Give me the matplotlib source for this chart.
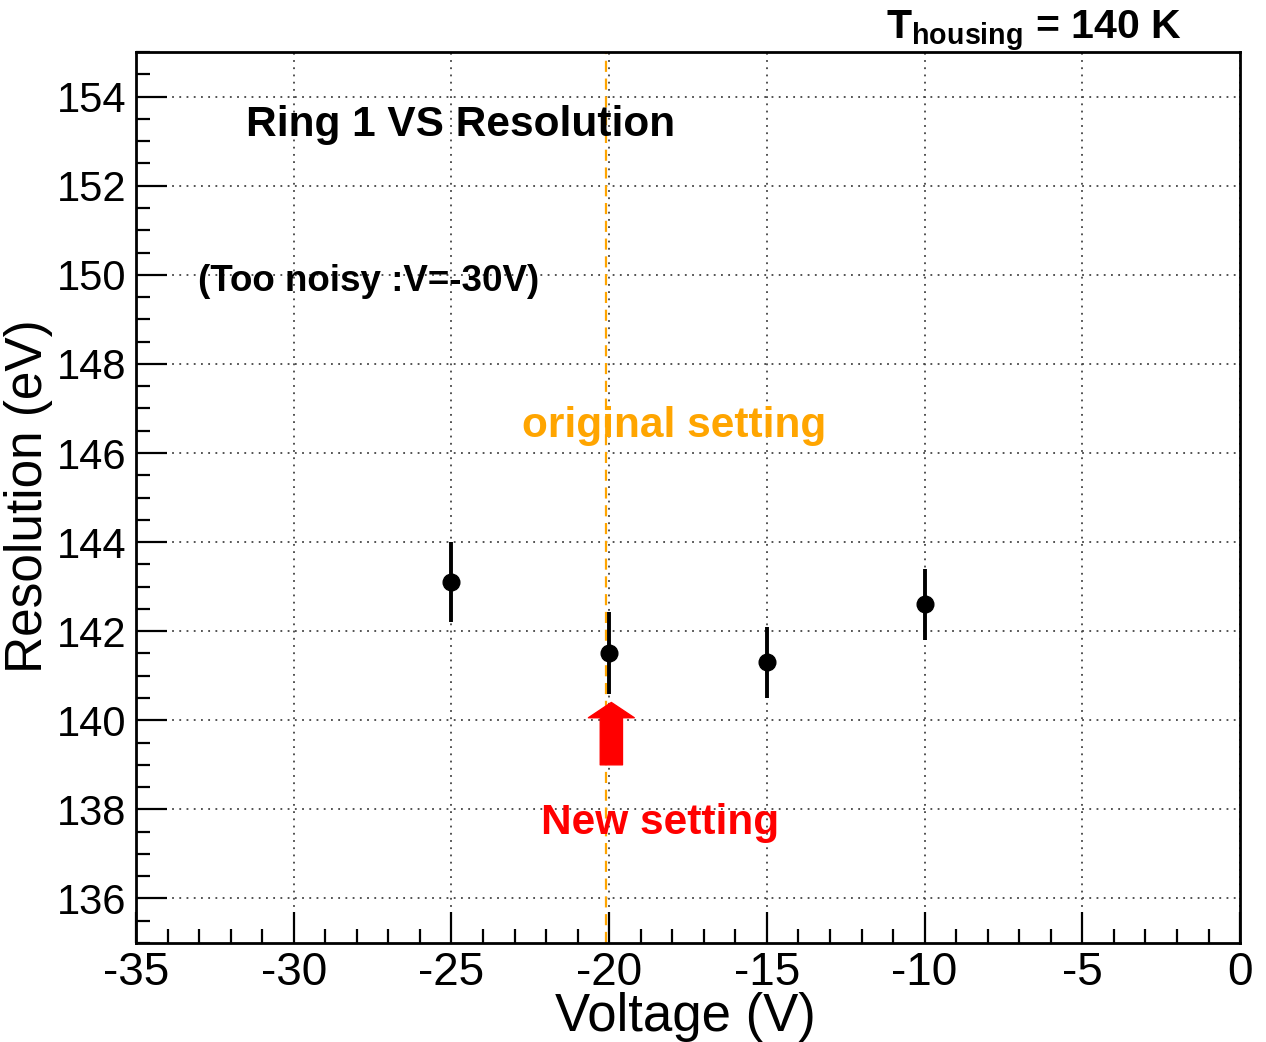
"""Ring 1 resolution versus bias voltage (ROOT-style plot)."""

import matplotlib

matplotlib.use("Agg")
import matplotlib.pyplot as plt
import matplotlib.ticker as mticker

plt.rcParams["font.family"] = ["Liberation Sans", "DejaVu Sans"]
plt.rcParams["mathtext.fontset"] = "custom"
plt.rcParams["mathtext.rm"] = "Liberation Sans"
plt.rcParams["mathtext.bf"] = "Liberation Sans:bold"

# ── Data ─────────────────────────────────────────────────────────────────────
voltage = [-25, -20, -15, -10]
resolution = [143.1, 141.5, 141.3, 142.6]
resolution_err = [0.9, 0.92, 0.8, 0.8]

original_setting_v = -20.1
new_setting_v = -19.93
arrow_tail_y = 139.0
arrow_head_y = 140.4


def main() -> None:
    fig = plt.figure(figsize=(12.66, 10.42), dpi=100)
    ax = fig.add_axes([0.1074, 0.095, 0.8721, 0.855])

    ax.set_xlim(-35, 0)
    ax.set_ylim(135, 155)

    # Grid on major ticks, dotted like ROOT
    ax.grid(True, which="major", linestyle=(0, (1, 3)), color="#444444", linewidth=1.3)
    ax.set_axisbelow(True)

    ax.xaxis.set_major_locator(mticker.MultipleLocator(5))
    ax.xaxis.set_minor_locator(mticker.MultipleLocator(1))
    ax.yaxis.set_major_locator(mticker.MultipleLocator(2))
    ax.yaxis.set_minor_locator(mticker.MultipleLocator(0.5))
    ax.xaxis.set_major_formatter(mticker.FuncFormatter(lambda v, _: f"{v:g}"))
    ax.yaxis.set_major_formatter(mticker.FuncFormatter(lambda v, _: f"{v:g}"))

    ax.tick_params(which="major", direction="in", length=22, width=1.6,
                   top=False, right=False, pad=6)
    ax.tick_params(which="minor", direction="in", length=10, width=1.6,
                   top=False, right=False)
    ax.tick_params(axis="x", which="major", labelsize=33)
    ax.tick_params(axis="y", which="major", labelsize=30, pad=7)
    for side in ["left", "bottom", "top", "right"]:
        ax.spines[side].set_linewidth(2.0)

    # Original setting marker line
    ax.axvline(original_setting_v, color="#FFA500", linestyle=(0, (5, 3)),
               linewidth=1.6, zorder=2)

    ax.errorbar(voltage, resolution, yerr=resolution_err, fmt="o", color="black",
                markersize=12, elinewidth=2.8, capsize=0, zorder=5)

    # New setting arrow
    ax.annotate(
        "",
        xy=(new_setting_v, arrow_head_y),
        xytext=(new_setting_v, arrow_tail_y),
        arrowprops=dict(facecolor="red", edgecolor="red", width=16,
                        headwidth=33, headlength=11, shrink=0),
        zorder=6,
    )

    ax.set_xlabel("Voltage (V)", fontsize=38)
    ax.set_ylabel("Resolution (eV)", fontsize=37)
    ax.xaxis.set_label_coords(0.498, -0.055)
    ax.yaxis.set_label_coords(-0.075, 0.502)

    ax.text(-24.7, 153.37, "Ring 1 VS Resolution", fontsize=30.5, fontweight="bold",
            ha="center", va="center")
    ax.text(-27.64, 149.85, "(Too noisy :V=-30V)", fontsize=26.5, fontweight="bold",
            ha="center", va="center")
    ax.text(-17.93, 146.6, "original setting", fontsize=30.5, fontweight="bold",
            color="#FFA500", ha="center", va="center")
    ax.text(-18.4, 137.7, "New setting", fontsize=30.5, fontweight="bold",
            color="red", ha="center", va="center")

    fig.text(0.8165, 0.971, r"T$_{\mathbf{housing}}$ = 140 K", fontsize=29.5,
             fontweight="bold", ha="center", va="center")

    fig.savefig("out.png", dpi=100)
    plt.close(fig)


if __name__ == "__main__":
    main()
